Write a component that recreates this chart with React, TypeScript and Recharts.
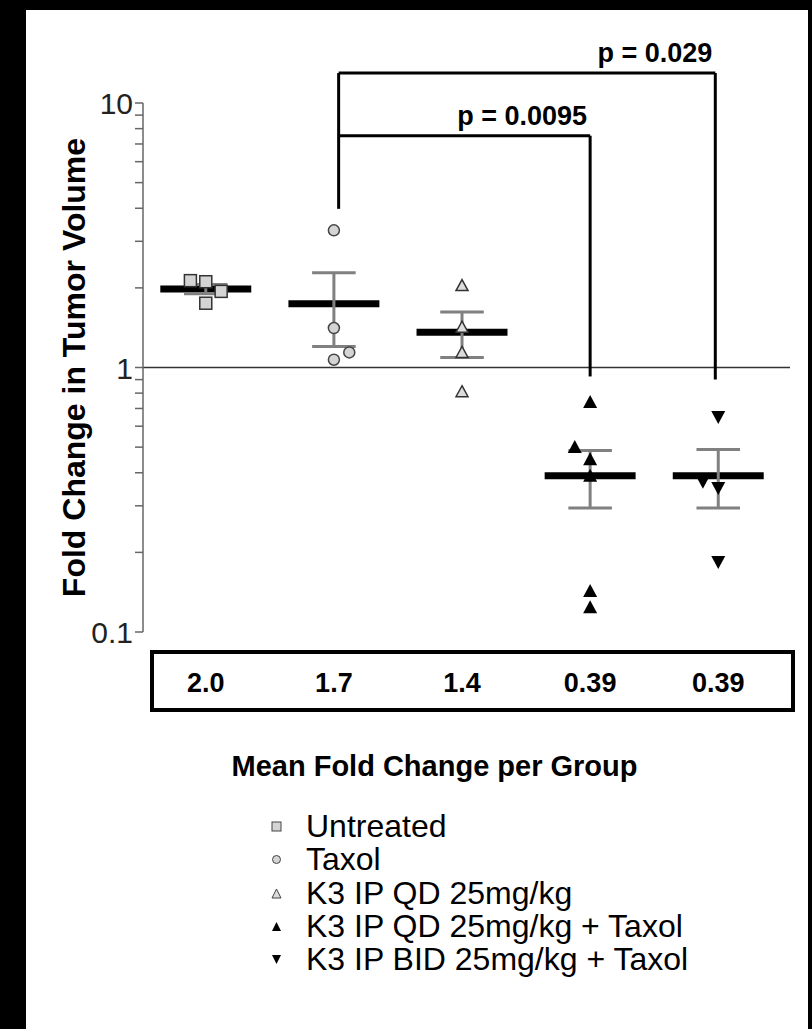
import React from 'react';
import { ComposedChart, Scatter, XAxis, YAxis, ReferenceLine, Legend } from 'recharts';

const groups = [
  'Untreated',
  'Taxol',
  'K3 IP QD 25mg/kg',
  'K3 IP QD 25mg/kg + Taxol',
  'K3 IP BID 25mg/kg + Taxol',
];
const groupPos = [1, 2, 3, 4, 5];
const meanLabels = ['2.0', '1.7', '1.4', '0.39', '0.39'];
const means = [1.98, 1.74, 1.36, 0.39, 0.39];
const errLow = [1.9, 1.2, 1.09, 0.294, 0.294];
const errHigh = [2.06, 2.28, 1.62, 0.486, 0.49];

const untreated = [
  { x: 0.88, y: 2.13 },
  { x: 1.0, y: 2.11 },
  { x: 1.12, y: 1.94 },
  { x: 1.0, y: 1.75 },
];
const taxol = [
  { x: 2.0, y: 3.3 },
  { x: 2.0, y: 1.41 },
  { x: 2.12, y: 1.14 },
  { x: 2.0, y: 1.07 },
];
const k3qd = [
  { x: 3.0, y: 2.04 },
  { x: 3.0, y: 1.42 },
  { x: 3.0, y: 1.14 },
  { x: 3.0, y: 0.81 },
];
const k3qdTaxol = [
  { x: 4.0, y: 0.74 },
  { x: 3.88, y: 0.5 },
  { x: 4.0, y: 0.45 },
  { x: 4.0, y: 0.39 },
  { x: 4.0, y: 0.143 },
  { x: 4.0, y: 0.124 },
];
const k3bidTaxol = [
  { x: 5.0, y: 0.65 },
  { x: 4.88, y: 0.37 },
  { x: 5.0, y: 0.35 },
  { x: 5.0, y: 0.184 },
];

// significance brackets: left x, right x, top value, bottom of left leg, bottom of right leg
const brackets = [
  { label: 'p = 0.029', from: 2.037, to: 4.977, top: 12.98, leftEnd: 3.98, rightEnd: 0.9 },
  { label: 'p = 0.0095', from: 2.037, to: 4.0, top: 7.52, leftEnd: 7.52, rightEnd: 0.925 },
];

const yTicks = [
  0.1, 0.2, 0.3, 0.4, 0.5, 0.6, 0.7, 0.8, 0.9,
  1, 2, 3, 4, 5, 6, 7, 8, 9, 10,
];
const majorTicks = [0.1, 1, 10];

const FONT = "Arial, 'Liberation Sans', sans-serif";
const MEAN_HALF = 0.355;
const CAP_HALF = 0.17;

const SquareShape = (p: any) => (
  <rect x={p.cx - 6} y={p.cy - 6} width={12} height={12} fill="#d4d4d4" stroke="#333" strokeWidth={1.5} />
);
const CircleShape = (p: any) => (
  <circle cx={p.cx} cy={p.cy} r={5.5} fill="#d4d4d4" stroke="#444" strokeWidth={1.5} />
);
const OpenTriShape = (p: any) => (
  <path d={`M${p.cx},${p.cy - 6}L${p.cx + 6},${p.cy + 5}L${p.cx - 6},${p.cy + 5}Z`} fill="#dcdcdc" stroke="#333" strokeWidth={1.5} />
);
const UpTriShape = (p: any) => (
  <path d={`M${p.cx},${p.cy - 7}L${p.cx + 7},${p.cy + 6}L${p.cx - 7},${p.cy + 6}Z`} fill="#000" />
);
const DownTriShape = (p: any) => (
  <path d={`M${p.cx - 7},${p.cy - 6}L${p.cx + 7},${p.cy - 6}L${p.cx},${p.cy + 7}Z`} fill="#000" />
);

const legendMarkers = [
  <rect x={3} y={3} width={9} height={9} fill="#d4d4d4" stroke="#444" strokeWidth={1} />,
  <circle cx={7.5} cy={7.5} r={4} fill="#d4d4d4" stroke="#444" strokeWidth={1} />,
  <path d="M7.5,3L12,12L3,12Z" fill="#dcdcdc" stroke="#444" strokeWidth={1} />,
  <path d="M7.5,3L12,12L3,12Z" fill="#000" />,
  <path d="M3,3L12,3L7.5,12Z" fill="#000" />,
];

const YTick = (props: any) => {
  const { x, y, payload } = props;
  if (!majorTicks.includes(payload.value)) return <g />;
  return (
    <text x={x} y={y} dy={11} textAnchor="end" fontSize={30} fontFamily={FONT} fill="#222">
      {payload.value}
    </text>
  );
};

const XTick = (props: any) => {
  const { x, y, payload } = props;
  const i = groupPos.indexOf(payload.value);
  return (
    <text x={x} y={y} dy={60} textAnchor="middle" fontSize={27} fontWeight="bold" fontFamily={FONT} fill="#000">
      {meanLabels[i]}
    </text>
  );
};

const renderLegend = () => (
  <div style={{ fontFamily: FONT, fontSize: 32, lineHeight: '33.3px', color: '#000' }}>
    {groups.map((g, i) => (
      <div key={g} style={{ display: 'flex', alignItems: 'center', whiteSpace: 'nowrap' }}>
        <svg width={15} height={15} style={{ marginRight: 22 }}>{legendMarkers[i]}</svg>
        <span>{g}</span>
      </div>
    ))}
  </div>
);

const bracketLabel = (text: string) => (props: any) => {
  const vb = props.viewBox || {};
  return (
    <text x={vb.x + vb.width - 3} y={vb.y - 11} textAnchor="end" fontSize={27} fontWeight="bold" fontFamily={FONT} fill="#000">
      {text}
    </text>
  );
};

export default function App() {
  return (
    <div style={{ position: 'absolute', left: 0, top: 0, width: 812, height: 1029, background: '#000' }}>
      <div style={{ position: 'absolute', left: 26, top: 10, width: 782, height: 1019, background: '#fff' }} />
      <div
        style={{
          position: 'absolute',
          left: 150,
          top: 650,
          width: 645,
          height: 62,
          border: '4px solid #000',
          boxSizing: 'border-box',
        }}
      />
      <div style={{ position: 'absolute', left: 0, top: 0 }}>
        <ComposedChart width={812} height={1029} margin={{ top: 103, right: 22, bottom: 337, left: 0 }}>
          <XAxis
            type="number"
            dataKey="x"
            domain={[0.51, 5.56]}
            ticks={groupPos}
            axisLine={false}
            tickLine={false}
            tickSize={0}
            tickMargin={0}
            height={60}
            tick={<XTick />}
            interval={0}
            label={{
              value: 'Mean Fold Change per Group',
              position: 'bottom',
              offset: 63,
              dx: -32,
              fontSize: 29,
              fontWeight: 'bold',
              fontFamily: FONT,
              fill: '#000',
            }}
          />
          <YAxis
            type="number"
            dataKey="y"
            scale="log"
            domain={[0.1, 10]}
            allowDataOverflow
            ticks={yTicks}
            interval={0}
            width={143}
            tickSize={8}
            tickMargin={2}
            axisLine={{ stroke: '#666', strokeWidth: 1.5 }}
            tickLine={{ stroke: '#666', strokeWidth: 1.5 }}
            tick={<YTick />}
            label={{
              value: 'Fold Change in Tumor Volume',
              angle: -90,
              position: 'center',
              dx: 2,
              fontSize: 32,
              fontWeight: 'bold',
              fontFamily: FONT,
              fill: '#000',
            }}
          />
          <ReferenceLine y={1} stroke="#333" strokeWidth={1.5} />
          {groupPos.map((g, i) => (
            <ReferenceLine
              key={`m${i}`}
              segment={[{ x: g - MEAN_HALF, y: means[i] }, { x: g + MEAN_HALF, y: means[i] }]}
              stroke="#000"
              strokeWidth={7}
            />
          ))}
          {groupPos.map((g, i) => (
            <ReferenceLine
              key={`v${i}`}
              segment={[{ x: g, y: errLow[i] }, { x: g, y: errHigh[i] }]}
              stroke="#808080"
              strokeWidth={3}
            />
          ))}
          {groupPos.map((g, i) => (
            <ReferenceLine
              key={`h${i}`}
              segment={[{ x: g - CAP_HALF, y: errHigh[i] }, { x: g + CAP_HALF, y: errHigh[i] }]}
              stroke="#808080"
              strokeWidth={3}
            />
          ))}
          {groupPos.map((g, i) => (
            <ReferenceLine
              key={`l${i}`}
              segment={[{ x: g - CAP_HALF, y: errLow[i] }, { x: g + CAP_HALF, y: errLow[i] }]}
              stroke="#808080"
              strokeWidth={3}
            />
          ))}
          {brackets.map((b, i) => (
            <ReferenceLine
              key={`bt${i}`}
              segment={[{ x: b.from, y: b.top }, { x: b.to, y: b.top }]}
              stroke="#000"
              strokeWidth={3}
              ifOverflow="visible"
              label={bracketLabel(b.label)}
            />
          ))}
          {brackets.map((b, i) => (
            <ReferenceLine
              key={`bl${i}`}
              segment={[{ x: b.from, y: b.top }, { x: b.from, y: b.leftEnd }]}
              stroke="#000"
              strokeWidth={3}
              ifOverflow="visible"
            />
          ))}
          {brackets.map((b, i) => (
            <ReferenceLine
              key={`br${i}`}
              segment={[{ x: b.to, y: b.top }, { x: b.to, y: b.rightEnd }]}
              stroke="#000"
              strokeWidth={3}
              ifOverflow="visible"
            />
          ))}
          <Scatter name={groups[0]} data={untreated} shape={SquareShape} isAnimationActive={false} />
          <Scatter name={groups[1]} data={taxol} shape={CircleShape} isAnimationActive={false} />
          <Scatter name={groups[2]} data={k3qd} shape={OpenTriShape} isAnimationActive={false} />
          <Scatter name={groups[3]} data={k3qdTaxol} shape={UpTriShape} isAnimationActive={false} />
          <Scatter name={groups[4]} data={k3bidTaxol} shape={DownTriShape} isAnimationActive={false} />
          <Legend
            layout="vertical"
            align="center"
            verticalAlign="middle"
            wrapperStyle={{ left: 269, top: 810, width: 520 }}
            content={renderLegend}
          />
        </ComposedChart>
      </div>
    </div>
  );
}
